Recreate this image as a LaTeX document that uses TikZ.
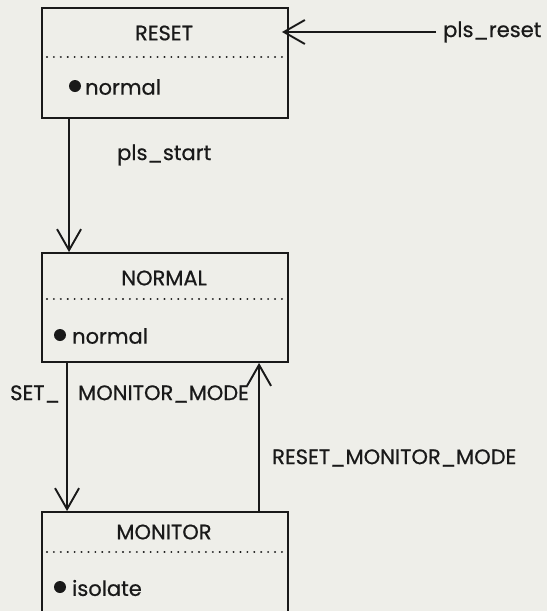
\documentclass[tikz,border=0pt]{standalone}
\usepackage{fontspec}
\setmainfont{Poppins}[UprightFeatures={FakeBold=0.6}]
\usetikzlibrary{arrows.meta}
\definecolor{ink}{RGB}{25,25,25}
\definecolor{paper}{RGB}{238,238,233}
\tikzset{
  state/.style={draw=ink, line width=1.9pt, rectangle, minimum width=246pt, inner sep=0pt},
  sep/.style={ink, line width=2.2pt, dash pattern=on 0.01pt off 6.9pt, line cap=round},
  txt/.style={text=ink, font=\fontsize{21}{24}\selectfont, inner sep=0pt},
  dot/.style={fill=ink, circle, inner sep=0pt, minimum size=12pt},
  arr/.style={ink, line width=1.9pt, -{Straight Barb[length=21pt,width=24pt,line width=1.9pt]}},
}
\begin{document}
\begin{tikzpicture}[x=1pt, y=-1pt]
  \useasboundingbox[fill=paper] (0,0) rectangle (547,611);

  % state boxes
  \node[state, minimum height=110pt] (reset) at (165,63) {};
  \node[state, minimum height=109pt] (normal) at (165,307.5) {};
  \node[state, minimum height=130pt] (monitor) at (165,577) {};

  % titles
  \node[txt] (tReset) at (164,33) {RESET};
  \node[txt] (tNormal) at (164,278) {NORMAL};
  \node[txt] (tMonitor) at (164,532) {MONITOR};

  % compartment separators
  \draw[sep] (47,57) -- (286,57);
  \draw[sep] (47,299) -- (286,299);
  \draw[sep] (47,552) -- (286,552);

  % activities
  \node[dot] (bReset) at (75,86) {};
  \node[txt, anchor=west] (aReset) at (85,87) {normal};
  \node[dot] (bNormal) at (60,335) {};
  \node[txt, anchor=west] (aNormal) at (72,336) {normal};
  \node[dot] (bMonitor) at (60,587) {};
  \node[txt, anchor=west] (aMonitor) at (72,588) {isolate};

  % external reset
  \node[txt, anchor=west] (plsReset) at (443,32) {pls\_reset};
  \draw[arr] ([xshift=-7pt]plsReset.west) -- ([xshift=-7pt]plsReset.west -| reset.east);

  % reset -> normal
  \coordinate (c1) at ([xshift=28pt]reset.south west);
  \draw[arr] (c1) -- (c1 |- normal.north);
  \node[txt, anchor=west] (plsStart) at (117,155) {pls\_start};

  % normal -> monitor
  \coordinate (c2) at ([xshift=26pt]normal.south west);
  \draw[arr] (c2) -- (c2 |- monitor.north);
  \node[txt, anchor=west] (setA) at (10,394) {SET\_};
  \node[txt, anchor=west] (setB) at (78,394) {MONITOR\_MODE};

  % monitor -> normal
  \coordinate (c3) at ([xshift=218pt]monitor.north west);
  \draw[arr] (c3) -- (c3 |- normal.south);
  \node[txt, anchor=west] (resetMM) at (272,458) {RESET\_MONITOR\_MODE};
\end{tikzpicture}
\end{document}
